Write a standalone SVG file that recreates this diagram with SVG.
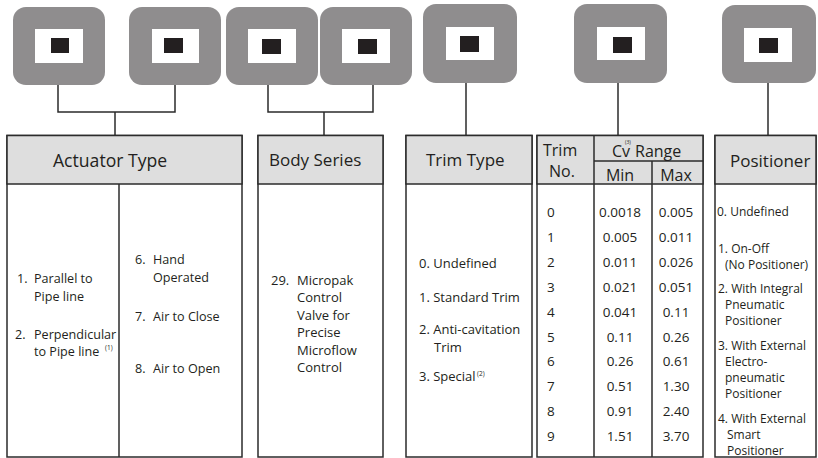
<svg xmlns="http://www.w3.org/2000/svg" width="818" height="458" viewBox="0 0 818 458">
<style>
.chip{fill:#8f8d8e}
.win{fill:#ffffff}
.dot{fill:#231f20}
.tbl{fill:#ffffff;stroke:#2b2b2b;stroke-width:1.5}
.hdr{fill:#dedede;stroke:#2b2b2b;stroke-width:1.5}
.ln{stroke:#2b2b2b;stroke-width:1.5;fill:none}
.con{stroke:#2b2b2b;stroke-width:1.5;fill:none}
text{font-family:"Open Sans","Noto Sans","Liberation Sans",sans-serif;fill:#231f20}
.h{font-size:17px}
.hs{font-size:16px}
.b{font-size:13px}
.a{font-size:12.6px}
.n{font-size:13.5px}
.s{font-size:12px}
.sup{font-size:6.5px}
.c{text-anchor:middle}
</style>
<rect width="818" height="458" fill="#ffffff"/>

<g id="connectors">
<path class="con" d="M58,81 V112 H175 V81 M115,112 V135"/>
<path class="con" d="M268,81 V112 H373 V81 M324,112 V135"/>
<path class="con" d="M466,79 V135"/>
<path class="con" d="M618,79 V135"/>
<path class="con" d="M768,79 V135"/>
</g>

<g id="box1"><rect class="chip" x="13" y="7" width="92" height="78" rx="13"/><rect class="win" x="35" y="29" width="48" height="34"/><rect class="dot" x="51" y="38" width="18" height="15"/></g>
<g id="box2"><rect class="chip" x="129" y="7" width="92" height="78" rx="13"/><rect class="win" x="152" y="29" width="47" height="34"/><rect class="dot" x="164" y="38" width="19" height="15"/></g>
<g id="box3"><rect class="chip" x="226" y="7" width="92" height="78" rx="13"/><rect class="win" x="248" y="29" width="48" height="34"/><rect class="dot" x="262" y="39" width="19" height="15"/></g>
<g id="box4"><rect class="chip" x="320" y="7" width="92" height="78" rx="13"/><rect class="win" x="342" y="29" width="48" height="34"/><rect class="dot" x="358" y="39" width="19" height="15"/></g>
<g id="box5"><rect class="chip" x="423" y="4" width="94" height="79" rx="13"/><rect class="win" x="446" y="27" width="48" height="33"/><rect class="dot" x="460" y="36" width="19" height="16"/></g>
<g id="box6"><rect class="chip" x="574" y="4" width="93" height="79" rx="13"/><rect class="win" x="597" y="27" width="48" height="33"/><rect class="dot" x="613" y="37" width="19" height="16"/></g>
<g id="box7"><rect class="chip" x="722" y="5" width="94" height="78" rx="13"/><rect class="win" x="744" y="28" width="48" height="34"/><rect class="dot" x="759" y="38" width="19" height="15"/></g>

<g id="actuator-type">
<rect class="tbl" x="7" y="135.5" width="235" height="321.5"/>
<rect class="hdr" x="7" y="135.5" width="235" height="48.5"/>
<line class="ln" x1="119" y1="184" x2="119" y2="457"/>
<text class="h" x="53" y="167" style="font-size:17.6px">Actuator Type</text>
<text class="a" x="17" y="283">1.</text><text class="a" x="34" y="283">Parallel to</text>
<text class="a" x="34" y="301">Pipe line</text>
<text class="a" x="15" y="339">2.</text><text class="a" x="34" y="339">Perpendicular</text>
<text class="a" x="34" y="356">to Pipe line</text><text class="sup" x="105" y="350">(1)</text>
<text class="a" x="135" y="264">6.</text><text class="a" x="153" y="264">Hand</text>
<text class="a" x="153" y="282">Operated</text>
<text class="a" x="135" y="321">7.</text><text class="a" x="153" y="321">Air to Close</text>
<text class="a" x="135" y="373">8.</text><text class="a" x="153" y="373">Air to Open</text>
</g>

<g id="body-series">
<rect class="tbl" x="258" y="135.5" width="125" height="321.5"/>
<rect class="hdr" x="258" y="135.5" width="125" height="48.5"/>
<text class="h" x="269" y="166">Body Series</text>
<text class="b" x="271" y="285">29.</text><text class="b" x="297" y="285">Micropak</text>
<text class="b" x="297" y="302">Control</text>
<text class="b" x="297" y="320">Valve for</text>
<text class="b" x="297" y="337">Precise</text>
<text class="b" x="297" y="355">Microflow</text>
<text class="b" x="297" y="372">Control</text>
</g>

<g id="trim-type">
<rect class="tbl" x="406" y="135.5" width="126" height="321.5"/>
<rect class="hdr" x="406" y="135.5" width="126" height="48.5"/>
<text class="h" x="426" y="166">Trim Type</text>
<text class="b" x="419" y="268">0. Undefined</text>
<text class="b" x="419" y="302">1. Standard Trim</text>
<text class="b" x="419" y="334">2. Anti-cavitation</text>
<text class="b" x="434" y="352">Trim</text>
<text class="b" x="419" y="381">3. Special</text><text class="sup" x="477" y="376">(2)</text>
</g>

<g id="cv-range">
<rect class="tbl" x="537" y="135.5" width="166" height="321.5"/>
<rect class="hdr" x="537" y="135.5" width="166" height="48.5"/>
<line class="ln" x1="594" y1="135.5" x2="594" y2="457"/>
<line class="ln" x1="594" y1="161" x2="703" y2="161"/>
<line class="ln" x1="652" y1="161" x2="652" y2="457"/>
<text class="hs" x="543" y="156">Trim</text>
<text class="hs" x="549" y="177">No.</text>
<text class="hs" x="612" y="157">Cv</text><text class="hs" x="635" y="157">Range</text><text class="sup" x="625" y="144" style="font-size:5px">(3)</text>
<text class="hs c" x="620" y="181">Min</text>
<text class="hs c" x="676" y="181">Max</text>
<text class="n" x="547" y="217">0</text><text class="n c" x="620" y="217">0.0018</text><text class="n c" x="676" y="217">0.005</text>
<text class="n" x="547" y="242">1</text><text class="n c" x="620" y="242">0.005</text><text class="n c" x="676" y="242">0.011</text>
<text class="n" x="547" y="267">2</text><text class="n c" x="620" y="267">0.011</text><text class="n c" x="676" y="267">0.026</text>
<text class="n" x="547" y="292">3</text><text class="n c" x="620" y="292">0.021</text><text class="n c" x="676" y="292">0.051</text>
<text class="n" x="547" y="317">4</text><text class="n c" x="620" y="317">0.041</text><text class="n c" x="676" y="317">0.11</text>
<text class="n" x="547" y="342">5</text><text class="n c" x="620" y="342">0.11</text><text class="n c" x="676" y="342">0.26</text>
<text class="n" x="547" y="366">6</text><text class="n c" x="620" y="366">0.26</text><text class="n c" x="676" y="366">0.61</text>
<text class="n" x="547" y="391">7</text><text class="n c" x="620" y="391">0.51</text><text class="n c" x="676" y="391">1.30</text>
<text class="n" x="547" y="416">8</text><text class="n c" x="620" y="416">0.91</text><text class="n c" x="676" y="416">2.40</text>
<text class="n" x="547" y="441">9</text><text class="n c" x="620" y="441">1.51</text><text class="n c" x="676" y="441">3.70</text>
</g>

<g id="positioner">
<rect class="tbl" x="715" y="135.5" width="101" height="321.5"/>
<rect class="hdr" x="715" y="135.5" width="101" height="48.5"/>
<text class="h" x="730" y="167">Positioner</text>
<text class="s" x="717" y="216">0. Undefined</text>
<text class="s" x="718" y="253">1. On-Off</text>
<text class="s" x="725" y="269">(No Positioner)</text>
<text class="s" x="718" y="293">2. With Integral</text>
<text class="s" x="725" y="309">Pneumatic</text>
<text class="s" x="725" y="325">Positioner</text>
<text class="s" x="718" y="350">3. With External</text>
<text class="s" x="725" y="366">Electro-</text>
<text class="s" x="725" y="382">pneumatic</text>
<text class="s" x="725" y="398">Positioner</text>
<text class="s" x="718" y="423">4. With External</text>
<text class="s" x="727" y="439">Smart</text>
<text class="s" x="727" y="455">Positioner</text>
</g>
</svg>
